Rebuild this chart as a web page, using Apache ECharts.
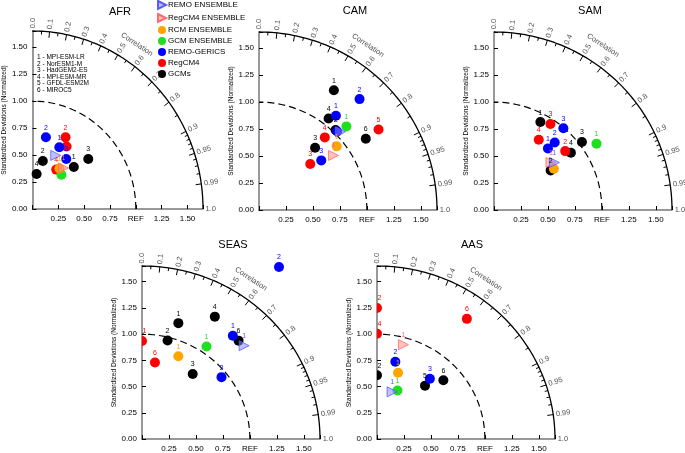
<!DOCTYPE html>
<html>
<head>
<meta charset="utf-8">
<script src="https://cdn.jsdelivr.net/npm/echarts@6/dist/echarts.min.js"></script>
<style>
html,body{margin:0;padding:0;background:#fff}
#chart{width:685px;height:453px}
</style>
</head>
<body>
<div id="chart"></div>
<script>
var FONT = "'Liberation Sans Narrow','Liberation Sans',Arial,sans-serif";

//区域名称
var regions = ['AFR', 'CAM', 'SAM', 'SEAS', 'AAS'];
//图例
var groupNames = ['REMO ENSEMBLE', 'RegCM4 ENSEMBLE', 'RCM ENSEMBLE', 'GCM ENSEMBLE', 'REMO-GERICS', 'RegCM4', 'GCMs'];
var groupColors = ['#5a5aff', '#ff6a6a', '#ffa500', '#1ee01e', '#0000ff', '#ff0000', '#000000'];
var modelNames = ['1 - MPI-ESM-LR', '2 - NorESM1-M', '3 - HadGEM2-ES', '4 - MPI-ESM-MR', '5 - GFDL-ESM2M', '6 - MIROC5'];

//相关系数刻度
var corrTicks = [0, 0.1, 0.2, 0.3, 0.4, 0.5, 0.6, 0.7, 0.8, 0.9, 0.95, 0.99, 1.0];
var corrLabels = ['0.0', '0.1', '0.2', '0.3', '0.4', '0.5', '0.6', '0.7', '0.8', '0.9', '0.95', '0.99', '1.0'];
var corrMinor = [0.05, 0.15, 0.25, 0.35, 0.45, 0.55, 0.65, 0.75, 0.85, 0.91, 0.92, 0.93, 0.94, 0.96, 0.97, 0.98];

// [group, x, y, label]
var afrData = [
	[6, 0.04, 0.325, '4'], [6, 0.10, 0.445, '2'], [6, 0.40, 0.39, '1'], [6, 0.54, 0.463, '3'],
	[5, 0.32, 0.664, '2'], [5, 0.33, 0.58, ''], [5, 0.23, 0.365, '4'],
	[4, 0.13, 0.665, '2'], [4, 0.26, 0.573, '1'], [4, 0.327, 0.463, '3'],
	[3, 0.28, 0.318, ''], [2, 0.26, 0.375, '1'], [1, 0.30, 0.38, '1'], [0, 0.225, 0.497, '']
];
var camData = [
	[6, 0.694, 1.11, '1'], [6, 0.645, 0.849, '4'], [6, 0.71, 0.742, '2'], [6, 0.99, 0.66, '6'], [6, 0.52, 0.577, '3'],
	[5, 1.108, 0.747, '5'], [5, 0.61, 0.673, '4'], [5, 0.475, 0.426, '3'],
	[4, 0.932, 1.028, '2'], [4, 0.713, 0.873, '1'], [4, 0.725, 0.728, ''], [4, 0.577, 0.46, '3'],
	[3, 0.81, 0.775, '1'], [2, 0.72, 0.59, '1'], [1, 0.69, 0.506, '1'], [0, 0.755, 0.725, '']
];
var samData = [
	[6, 0.43, 0.815, '1'], [6, 0.815, 0.63, '3'], [6, 0.713, 0.53, '4'], [6, 0.525, 0.367, '2'],
	[5, 0.523, 0.797, '3'], [5, 0.415, 0.652, '4'], [5, 0.66, 0.546, '2'],
	[4, 0.643, 0.757, '3'], [4, 0.563, 0.625, '2'], [4, 0.50, 0.571, '1'],
	[3, 0.95, 0.615, '1'], [2, 0.555, 0.383, ''], [1, 0.528, 0.44, '1'], [0, 0.56, 0.44, '1']
];
var seasData = [
	[6, 0.337, 1.105, '1'], [6, 0.675, 1.167, '4'], [6, 0.237, 0.94, '2'], [6, 0.895, 0.938, '6'], [6, 0.47, 0.62, '3'],
	[5, 0.0, 0.935, '1'], [5, 0.12, 0.73, '6'],
	[4, 1.27, 1.64, '2'], [4, 0.842, 0.985, '1'], [4, 0.737, 0.59, '3'],
	[3, 0.598, 0.882, '1'], [2, 0.337, 0.79, '1'], [0, 0.947, 0.89, '1']
];
var aasData = [
	[6, 0.0, 0.608, '2'], [6, 0.445, 0.509, '5'], [6, 0.615, 0.56, '6'],
	[5, 0.0, 1.25, '2'], [5, 0.0, 1.005, '4'], [5, 0.833, 1.146, '6'],
	[4, 0.17, 0.737, '2'], [4, 0.49, 0.574, '3'],
	[3, 0.19, 0.463, '1'], [2, 0.195, 0.632, '1'], [1, 0.245, 0.90, '1'], [0, 0.14, 0.45, '1']
];
var regionData = [afrData, camData, samData, seasData, aasData];

//每个图的位置
var boxes = [[25, 31], [259, 32], [494, 32], [142, 266], [377, 266]];
var titlePos = [[120, 6], [355, 5], [590, 5], [233, 239], [472, 239]];
var SIZE = 178;
var RMAX = 1.65;
var TRI = 'path://M0,0L10,5L0,10Z';
var HALF = 'path://M0,-5A5,5 0 0 1 0,5Z';

function polar(r, c) {
	var t = Math.acos(c);
	return [r * Math.cos(t), r * Math.sin(t)];
}
function arc(r) {
	var pts = [];
	for (var d = 0; d <= 90; d += 1) {
		var t = d * Math.PI / 180;
		pts.push([r * Math.cos(t), r * Math.sin(t)]);
	}
	return pts;
}

var grids = [], xAxes = [], yAxes = [], series = [], titles = [];

for (var i = 0; i < regions.length; i++) {
	grids.push({left: boxes[i][0], top: boxes[i][1], width: SIZE, height: SIZE});
	titles.push({
		text: regions[i], left: titlePos[i][0], top: titlePos[i][1], textAlign: 'center', padding: 0,
		textStyle: {fontSize: 11, fontWeight: 'normal', color: '#000', fontFamily: FONT}
	});
	xAxes.push({
		type: 'value', gridIndex: i, min: 0, max: RMAX, interval: 0.25,
		splitLine: {show: false},
		axisLine: {lineStyle: {color: '#777', width: 1.5}},
		axisTick: {inside: true, length: 4, lineStyle: {color: '#000'}},
		axisLabel: {
			fontSize: 8, color: '#000', fontFamily: FONT, margin: 6,
			formatter: function(v) {
				if (v === 0 || Math.abs(v / 0.25 - Math.round(v / 0.25)) > 1e-6) return '';
				if (Math.abs(v - 1) < 1e-6) return 'REF';
				return v.toFixed(2);
			}
		}
	});
	yAxes.push({
		type: 'value', gridIndex: i, min: 0, max: RMAX, interval: 0.25,
		name: 'Standardized Deviations (Normalized)', nameLocation: 'middle', nameGap: 19,
		nameTextStyle: {fontSize: 6.5, color: '#000', fontFamily: FONT},
		splitLine: {show: false},
		axisLine: {lineStyle: {color: '#999', width: 2}},
		axisTick: {inside: true, length: 4, lineStyle: {color: '#000'}},
		axisLabel: {
			fontSize: 8, color: '#000', fontFamily: FONT, margin: 5,
			formatter: function(v) {
				if (Math.abs(v / 0.25 - Math.round(v / 0.25)) > 1e-6) return '';
				return v.toFixed(2);
			}
		}
	});

	//外圆弧和参考圆弧
	series.push({
		type: 'line', xAxisIndex: i, yAxisIndex: i, data: arc(RMAX), showSymbol: false, silent: true,
		lineStyle: {color: '#000', width: 1.3}, clip: false, z: 1
	});
	series.push({
		type: 'line', xAxisIndex: i, yAxisIndex: i, data: arc(1), showSymbol: false, silent: true,
		lineStyle: {color: '#000', width: 1.2, type: [7, 4]}, clip: false, z: 1
	});

	//相关系数刻度线
	var tickLines = [];
	for (var k = 1; k < corrTicks.length - 1; k++) {
		tickLines.push({coords: [polar(RMAX, corrTicks[k]), polar(RMAX - 0.055, corrTicks[k])]});
	}
	for (var m = 0; m < corrMinor.length; m++) {
		tickLines.push({coords: [polar(RMAX, corrMinor[m]), polar(RMAX - 0.03, corrMinor[m])]});
	}
	series.push({
		type: 'lines', coordinateSystem: 'cartesian2d', xAxisIndex: i, yAxisIndex: i, silent: true,
		data: tickLines, lineStyle: {color: '#000', width: 1, opacity: 1}, z: 1
	});

	//相关系数标签
	var corrData = [];
	for (var k = 0; k < corrTicks.length; k++) {
		corrData.push({
			value: polar(RMAX + 0.025, corrTicks[k]), name: corrLabels[k],
			label: {rotate: Math.acos(corrTicks[k]) * 180 / Math.PI}
		});
	}
	var ct = 56.5 * Math.PI / 180;
	corrData.push({
		value: [1.83 * Math.cos(ct), 1.83 * Math.sin(ct)], name: 'Correlation',
		label: {rotate: -(90 - 56.5), align: 'center'}
	});
	series.push({
		type: 'scatter', xAxisIndex: i, yAxisIndex: i, data: corrData, symbolSize: 1, silent: true, clip: false,
		itemStyle: {color: 'rgba(0,0,0,0)'},
		label: {
			show: true, position: 'inside', align: 'left', verticalAlign: 'middle',
			formatter: '{b}', fontSize: 7.5, color: '#222', fontFamily: FONT
		}
	});

	//散点 (GCMs 先画, 集合最后画)
	for (var g = 6; g >= 0; g--) {
		var pts = [];
		var rows = regionData[i];
		for (var r = 0; r < rows.length; r++) {
			if (rows[r][0] !== g) continue;
			var item = {value: [rows[r][1], rows[r][2]], name: rows[r][3]};
			if (rows[r][1] === 0) {
				item.symbol = HALF;
				item.symbolSize = [5, 10];
				item.symbolOffset = [2.5, 0];
			}
			pts.push(item);
		}
		if (!pts.length) continue;
		var isTri = g < 2;
		series.push({
			type: 'scatter', name: groupNames[g], xAxisIndex: i, yAxisIndex: i, data: pts,
			symbol: isTri ? TRI : 'circle', symbolSize: 10, clip: false, z: 3,
			itemStyle: isTri ? {color: g === 0 ? 'rgba(140,140,255,0.55)' : 'rgba(255,140,140,0.55)', borderColor: groupColors[g], borderWidth: 0.8, opacity: 1} : {color: groupColors[g], opacity: 1},
			label: {
				show: true, position: 'top', distance: 1, formatter: '{b}',
				fontSize: 7, color: g === 2 ? '#ffa500' : groupColors[g], fontFamily: FONT
			}
		});
	}
}

titles.push({
	text: modelNames.join('\n'), left: 37, top: 54, padding: 0,
	textStyle: {fontSize: 6.5, fontWeight: 'normal', color: '#000', lineHeight: 6.6, fontFamily: FONT}
});

var legendData = [];
for (var g = 0; g < groupNames.length; g++) {
	legendData.push({name: groupNames[g], icon: g < 2 ? TRI : 'circle'});
}

var myChart = echarts.init(document.getElementById('chart'));
myChart.setOption({
	animation: false,
	backgroundColor: '#fff',
	title: titles,
	legend: {
		data: legendData, orient: 'vertical', left: 157, top: 0, padding: 0,
		itemWidth: 8, itemHeight: 8, itemGap: 3,
		textStyle: {fontSize: 8, color: '#000', fontFamily: FONT, padding: [0, 0, 0, -3]}
	},
	grid: grids,
	xAxis: xAxes,
	yAxis: yAxes,
	series: series
});
</script>
</body>
</html>
